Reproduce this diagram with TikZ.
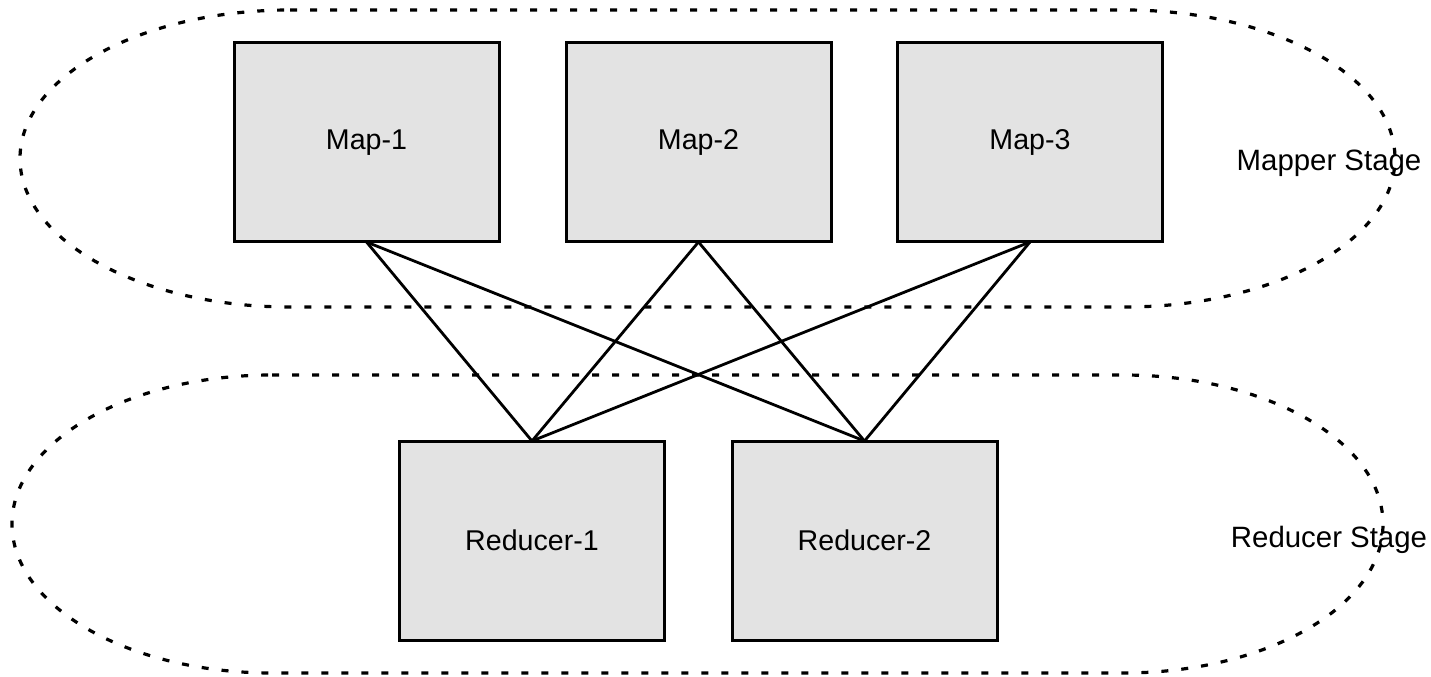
\documentclass[tikz,border=0pt]{standalone}
\usepackage{fontspec}
\setmainfont{Liberation Sans}
\definecolor{boxfill}{RGB}{227,227,227}
\tikzset{
  stagebox/.style={draw, line width=1.6pt, dash pattern=on 3.5pt off 6.5pt},
  taskbox/.style={draw, line width=1.5pt, fill=boxfill, minimum width=132.5pt, minimum height=99.5pt, inner sep=0pt, outer sep=0pt, font=\fontsize{14.3pt}{17pt}\selectfont},
  link/.style={line width=1.4pt},
  stagelabel/.style={font=\fontsize{14.7pt}{17pt}\selectfont, inner sep=0pt}
}
\begin{document}
\begin{tikzpicture}[x=0.5pt, y=0.5pt]
\useasboundingbox (0,0) rectangle (1431,676);
% Mapper stage outline
\draw[stagebox] (290,666) -- (1125,666)
  arc[start angle=90, end angle=0, x radius=135pt, y radius=74.25pt]
  arc[start angle=0, end angle=-90, x radius=135pt, y radius=74.25pt]
  -- (290,369)
  arc[start angle=270, end angle=180, x radius=135pt, y radius=74.25pt]
  arc[start angle=180, end angle=90, x radius=135pt, y radius=74.25pt] -- cycle;
% Reducer stage outline
\draw[stagebox] (272,301) -- (1123,301)
  arc[start angle=90, end angle=0, x radius=130pt, y radius=74.5pt]
  arc[start angle=0, end angle=-90, x radius=130pt, y radius=74.5pt]
  -- (272,3)
  arc[start angle=270, end angle=180, x radius=130pt, y radius=74.5pt]
  arc[start angle=180, end angle=90, x radius=130pt, y radius=74.5pt] -- cycle;
\node[taskbox] (m1) at (366.5,533.5) {Map-1};
\node[taskbox] (m2) at (698.5,533.5) {Map-2};
\node[taskbox] (m3) at (1030,533.5) {Map-3};
\node[taskbox] (r1) at (532,135.5) {Reducer-1};
\node[taskbox] (r2) at (864.5,135.5) {Reducer-2};
\foreach \m in {m1,m2,m3}{
  \draw[link] (\m.south) -- (r1.north);
  \draw[link] (\m.south) -- (r2.north);
}
\node[stagelabel] (ms) at (1329,513) {Mapper Stage};
\node[stagelabel] (rs) at (1329,136) {Reducer Stage};
\end{tikzpicture}
\end{document}
